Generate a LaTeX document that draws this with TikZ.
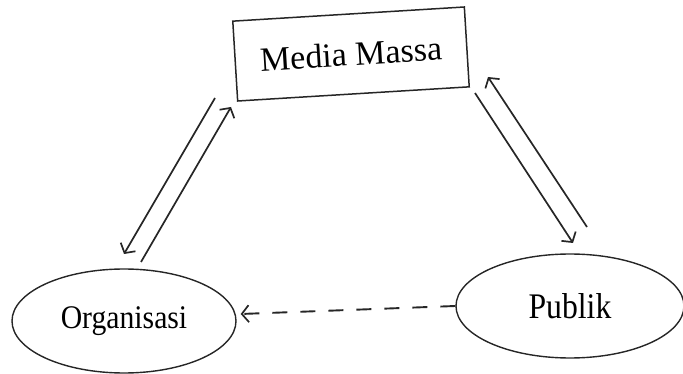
\documentclass[tikz,border=0pt]{standalone}
\usepackage{fontspec}
\setmainfont{Liberation Serif}
\usetikzlibrary{shapes.geometric,arrows.meta,calc}

\tikzset{
  line/.style={line width=1.7pt, draw=black!85},
  tip/.style={-{Straight Barb[length=7pt,width=17pt,line width=1.7pt]}},
  ellnode/.style={ellipse, draw, line width=1.4pt, draw=black!85,
    minimum width=224pt, minimum height=104pt, inner sep=0pt},
  boxnode/.style={rectangle, draw, line width=1.5pt, draw=black!85,
    minimum width=232pt, minimum height=80pt, inner sep=0pt},
}

\begin{document}
\begin{tikzpicture}[x=1pt,y=-1pt]
  \useasboundingbox (0,0) rectangle (683,374);

  % the three parties
  \node[boxnode, rotate=3.5] (media) at (351,54)
    {\fontsize{34pt}{36pt}\selectfont Media Massa};
  \node[ellnode] (org) at (124,321)
    {\scalebox{0.9}[1]{\fontsize{33pt}{35pt}\selectfont Organisasi}};
  \node[ellnode, minimum width=228pt] (pub) at (570,306)
    {\scalebox{0.88}[1]{\fontsize{36pt}{38pt}\selectfont Publik}};

  % ends of the paired arrows
  \coordinate (ml1) at (215,98);
  \coordinate (ol1) at (124,254);
  \coordinate (ol2) at (141,262);
  \coordinate (ml2) at (231,107);
  \coordinate (mr1) at (475,93);
  \coordinate (pr1) at (573,243);
  \coordinate (pr2) at (587,227);
  \coordinate (mr2) at (488,77);

  % media <-> organisation
  \draw[line, tip] (ml1) -- (ol1);
  \draw[line, tip] (ol2) -- (ml2);

  % media <-> public
  \draw[line, tip] (mr1) -- (pr1);
  \draw[line, tip] (pr2) -- (mr2);

  % public -> organisation (indirect)
  \draw[line, tip, line width=1.9pt, dash pattern=on 15pt off 13pt]
    (pub.west) -- ($(org.east)+(4,-7)$);
\end{tikzpicture}
\end{document}
